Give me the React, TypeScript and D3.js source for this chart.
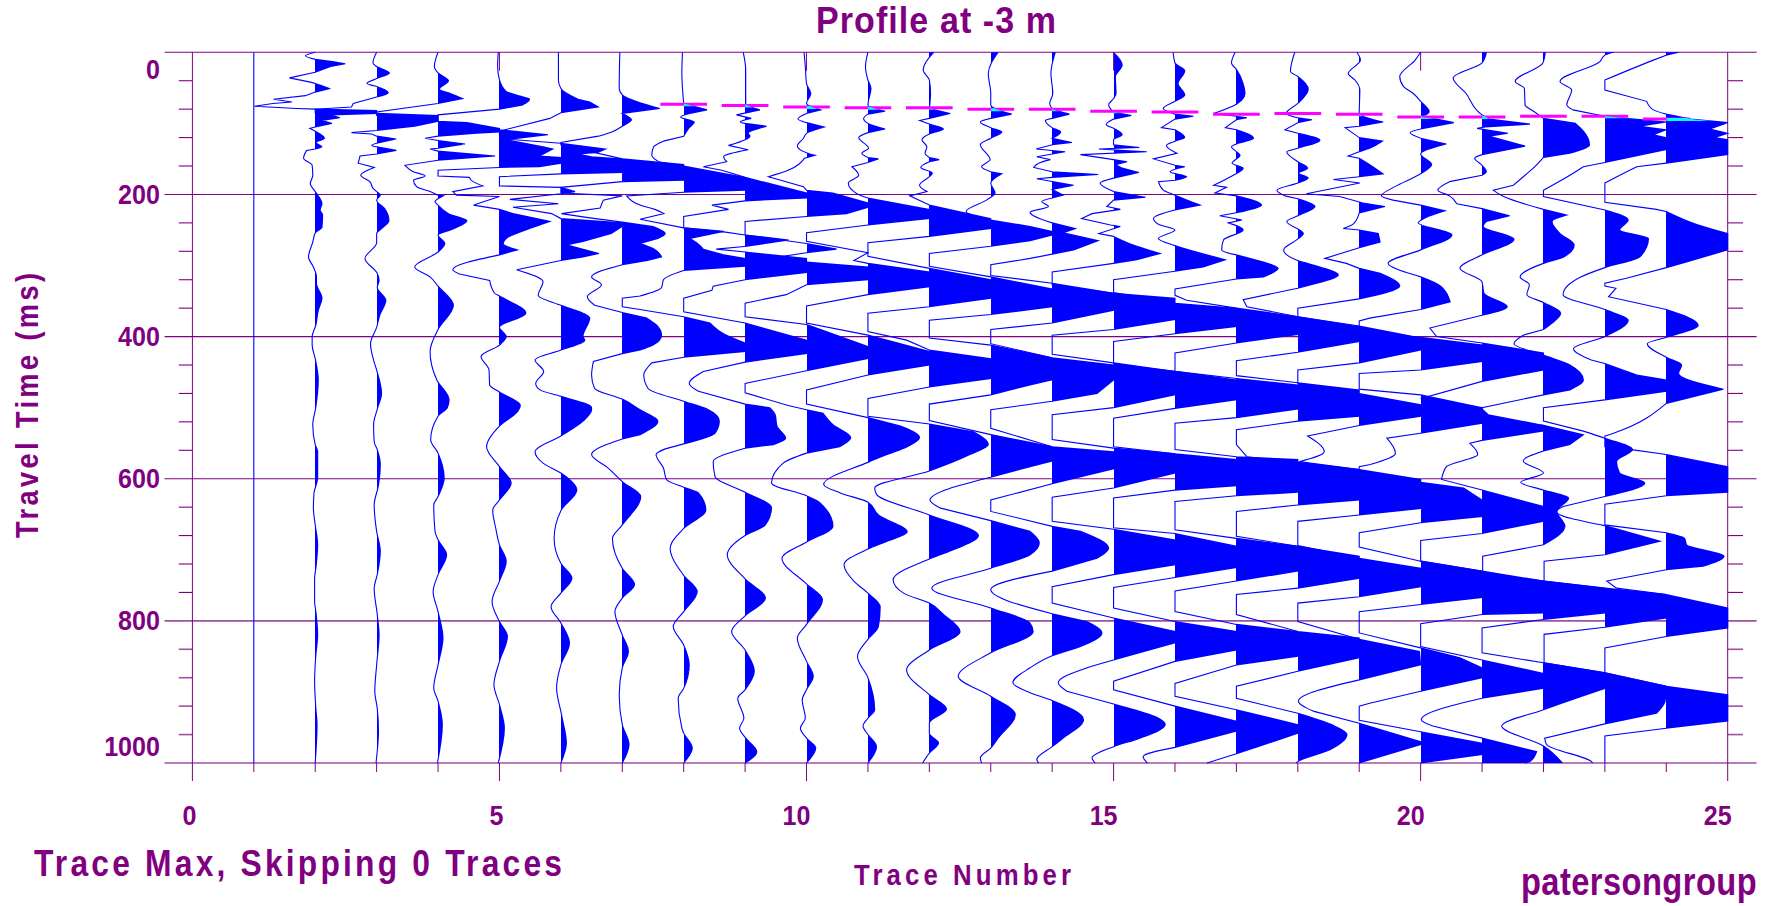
import React, { useEffect, useRef } from 'react';
import * as d3 from 'd3';

type Sample = [number, number]; // [time ms, amplitude in % of the trace spacing]

const trace01: Sample[] = [[0,0],[1000,0]];
const trace02: Sample[] = [[0,0],[5,-16],[10,0],[13,28],[16,49],[20,25],[28,0],[36,-42],[42,-8],[44,0],[51,23],[56,0],[61,-16],[66,-68],[70,-38],[72,-69],[76,-99],[79,-30],[80,0],[82,100],[86,100],[88,25],[92,40],[96,11],[100,27],[105,0],[107,-9],[111,0],[121,15],[127,1],[133,11],[136,0],[138,-14],[149,-19],[159,-5],[173,-4],[185,-8],[196,0],[213,11],[222,8],[229,12],[246,11],[254,0],[267,-4],[288,-11],[302,-3],[316,2],[325,2],[346,11],[363,5],[384,1],[400,-5],[412,-5],[431,0],[461,5],[499,1],[524,-4],[552,0],[562,4],[599,4],[620,-2],[641,-3],[665,0],[693,4],[726,1],[740,-1],[773,-1],[787,1],[820,4],[848,1],[885,-1],[923,1],[946,3],[1000,0]];
const trace03: Sample[] = [[0,0],[15,-6],[20,0],[29,21],[37,0],[44,-16],[48,0],[57,19],[63,0],[72,-38],[77,-41],[80,-100],[85,-100],[86,0],[89,100],[97,100],[104,62],[110,0],[113,-41],[115,-8],[118,0],[122,32],[128,0],[131,-8],[133,0],[138,32],[143,0],[146,-27],[156,-30],[162,-4],[173,-26],[182,-11],[191,-6],[196,0],[201,6],[208,0],[220,13],[237,20],[248,8],[255,0],[268,0],[290,-19],[311,1],[321,4],[331,1],[349,15],[370,5],[387,0],[410,-10],[433,-5],[447,0],[480,8],[502,1],[524,-5],[548,-4],[559,1],[580,6],[609,3],[637,-4],[674,0],[702,6],[735,1],[754,-4],[791,1],[820,4],[862,0],[899,-3],[923,1],[955,3],[1000,-1]];
const trace04: Sample[] = [[0,0],[20,-6],[29,0],[40,17],[52,2],[58,20],[65,40],[72,0],[84,-100],[89,-100],[97,0],[99,47],[107,100],[112,100],[114,63],[118,0],[121,-21],[124,0],[129,44],[135,0],[136,-13],[139,0],[146,93],[152,0],[159,-54],[168,-40],[174,-21],[180,-40],[189,-35],[196,-13],[201,0],[202,9],[206,0],[210,-5],[215,0],[227,17],[237,47],[250,20],[257,0],[269,11],[281,0],[302,-38],[316,-13],[329,0],[356,25],[390,0],[421,-13],[461,-2],[489,18],[500,15],[512,0],[545,-12],[564,0],[599,10],[625,0],[637,-7],[674,-5],[686,0],[707,14],[735,0],[759,-8],[787,0],[824,8],[862,0],[894,-7],[913,0],[946,7],[1000,-1]];
const trace05: Sample[] = [[0,-2],[20,-3],[39,0],[55,11],[62,35],[66,49],[74,38],[80,0],[88,-100],[97,-100],[109,0],[116,79],[123,11],[133,71],[136,87],[146,65],[148,100],[156,100],[161,65],[162,0],[166,-100],[174,-100],[176,-49],[182,-43],[188,-27],[196,-76],[201,-70],[203,0],[215,-42],[221,0],[227,22],[238,82],[248,49],[262,11],[269,6],[278,29],[285,0],[306,-76],[312,-65],[321,-16],[339,-8],[343,0],[367,43],[387,0],[400,11],[412,0],[428,-30],[447,-17],[468,-16],[478,0],[497,34],[505,30],[526,0],[555,-21],[583,0],[606,19],[630,0],[644,-11],[670,-6],[693,0],[716,11],[744,0],[773,-12],[801,0],[822,13],[857,0],[890,-9],[918,0],[951,8],[1000,-2]];
const trace06: Sample[] = [[0,-4],[39,-4],[51,0],[66,28],[70,47],[77,61],[85,0],[93,-18],[109,-91],[112,-100],[118,-100],[122,-90],[128,0],[136,73],[141,60],[143,28],[147,50],[150,100],[169,100],[171,0],[175,-100],[188,-100],[190,0],[196,23],[199,0],[207,-83],[213,-4],[218,-78],[227,-15],[234,0],[240,100],[245,100],[255,82],[266,36],[271,9],[283,62],[288,36],[293,0],[306,-72],[323,-29],[342,-37],[356,0],[367,36],[374,47],[400,36],[405,39],[419,0],[433,-42],[449,-28],[466,-41],[475,-34],[484,0],[500,50],[503,50],[519,36],[540,0],[562,-42],[578,-29],[592,0],[616,26],[645,0],[684,-11],[719,0],[740,18],[761,0],[780,-16],[803,0],[831,14],[862,0],[894,-7],[932,1],[972,9],[1000,0]];
const trace07: Sample[] = [[0,-4],[51,-5],[60,0],[71,29],[79,61],[86,0],[95,15],[104,0],[112,-17],[118,-39],[127,-100],[130,-100],[150,0],[158,100],[180,100],[182,0],[190,-100],[198,-100],[202,0],[208,-31],[219,-36],[227,-99],[233,-53],[239,0],[245,50],[255,70],[262,58],[269,29],[276,50],[288,64],[293,41],[299,0],[316,-50],[327,-34],[344,-57],[356,-45],[366,0],[374,40],[384,56],[398,64],[412,50],[419,29],[424,0],[435,-47],[454,-50],[473,-45],[488,0],[503,29],[519,58],[538,29],[544,0],[566,-50],[585,-23],[604,0],[625,30],[665,0],[684,-16],[726,0],[749,20],[768,0],[787,-12],[820,0],[843,10],[866,0],[904,-5],[946,0],[974,11],[1000,0]];
const trace08: Sample[] = [[0,-2],[30,-3],[72,0],[81,38],[86,10],[91,-5],[98,17],[107,8],[118,0],[125,-33],[133,-49],[145,-52],[154,-41],[160,0],[176,100],[194,100],[197,0],[202,-93],[215,-71],[221,-47],[227,-32],[235,-71],[247,0],[252,65],[262,10],[268,21],[277,32],[285,65],[290,100],[301,100],[307,0],[320,-33],[331,-36],[343,-71],[346,-100],[358,-100],[362,-71],[372,0],[381,43],[396,65],[409,100],[421,100],[429,0],[437,-52],[454,-65],[473,-58],[491,0],[502,38],[519,58],[536,51],[551,0],[558,-30],[566,-45],[585,-33],[601,-28],[612,0],[620,24],[644,36],[670,0],[698,-22],[736,0],[759,22],[787,0],[808,-17],[834,0],[862,9],[895,0],[909,-9],[951,-3],[958,0],[979,14],[1000,0]];
const trace09: Sample[] = [[0,-3],[25,1],[72,1],[81,24],[88,-14],[93,10],[98,-8],[100,0],[104,35],[114,5],[118,8],[123,0],[131,-27],[137,5],[147,-35],[154,-30],[161,-68],[166,-38],[176,0],[198,100],[205,100],[209,0],[215,-54],[221,-27],[231,-100],[247,-100],[253,-32],[257,0],[264,71],[273,3],[277,-47],[281,0],[290,100],[310,100],[320,0],[329,-52],[335,-54],[346,-100],[365,-100],[381,0],[405,100],[424,100],[436,0],[449,-68],[466,-91],[477,-76],[495,0],[500,40],[510,49],[526,52],[543,66],[552,46],[557,0],[576,-52],[597,-49],[619,0],[641,43],[665,33],[680,0],[707,-29],[741,0],[768,33],[793,0],[815,-22],[841,0],[871,15],[897,0],[909,-12],[937,-2],[951,-9],[964,0],[984,19],[1000,0]];
const trace10: Sample[] = [[0,-4],[20,-2],[44,0],[58,7],[72,0],[81,23],[86,0],[94,-14],[99,0],[105,29],[114,0],[121,-5],[132,-15],[142,2],[145,14],[149,-3],[166,-30],[175,-62],[189,-5],[194,0],[198,43],[212,100],[218,100],[227,65],[231,0],[238,-100],[257,-100],[269,0],[277,49],[282,0],[290,-60],[295,0],[302,100],[320,100],[327,0],[341,-33],[353,-100],[372,-100],[383,0],[398,49],[414,100],[431,100],[448,0],[466,-100],[479,-100],[497,-30],[503,0],[508,27],[524,43],[542,72],[555,54],[564,0],[578,-38],[606,-57],[624,0],[634,22],[667,43],[689,0],[712,-40],[748,0],[770,26],[805,0],[824,-15],[857,0],[878,11],[897,0],[911,-7],[937,-2],[951,-10],[965,0],[979,15],[1000,0]];
const trace11: Sample[] = [[0,0],[20,-4],[39,0],[51,5],[74,0],[83,28],[87,0],[93,-7],[100,0],[108,28],[113,0],[120,-15],[135,1],[142,-10],[148,0],[150,17],[155,0],[161,-26],[173,-15],[184,-32],[199,-18],[205,0],[221,100],[234,100],[243,0],[254,-100],[266,-100],[282,0],[293,-23],[297,0],[309,100],[330,100],[341,0],[357,-100],[381,-100],[398,0],[421,100],[440,100],[454,0],[475,-100],[495,-100],[514,0],[526,53],[542,84],[555,64],[566,31],[577,0],[608,-72],[620,-45],[633,0],[651,17],[675,64],[688,31],[699,0],[721,-39],[744,-23],[761,0],[780,20],[808,17],[826,0],[850,-17],[880,0],[925,11],[937,0],[948,-8],[960,0],[977,14],[1000,0]];
const trace12: Sample[] = [[0,7],[25,-10],[39,0],[58,2],[79,0],[86,34],[93,0],[96,-16],[101,0],[108,23],[115,0],[123,-12],[133,-4],[142,-7],[148,0],[151,16],[154,0],[162,-14],[170,5],[187,-16],[196,-4],[202,-32],[215,0],[234,100],[248,100],[259,0],[268,-100],[287,-100],[304,0],[320,100],[346,100],[358,0],[367,-100],[393,-100],[405,-37],[419,0],[431,100],[459,100],[471,0],[487,-100],[512,-100],[523,0],[534,72],[552,96],[566,66],[589,0],[613,-89],[622,-86],[651,0],[680,80],[698,45],[713,0],[742,-59],[761,-42],[775,0],[791,23],[815,50],[841,0],[869,-37],[904,0],[924,28],[944,0],[958,0],[972,15],[986,0],[1000,-11]];
const trace13: Sample[] = [[0,12],[30,-4],[58,0],[74,0],[87,34],[93,0],[98,-17],[106,0],[112,18],[121,0],[130,-17],[151,-1],[161,-15],[168,0],[171,18],[184,0],[198,7],[208,-7],[224,-40],[236,0],[245,64],[252,100],[257,100],[265,64],[273,0],[283,-100],[301,-100],[316,0],[333,100],[358,100],[369,0],[377,-100],[402,-100],[412,0],[430,100],[461,100],[468,64],[482,0],[495,-100],[518,-100],[538,0],[555,100],[575,100],[583,64],[598,0],[630,-99],[641,-83],[659,0],[674,64],[690,79],[707,64],[726,0],[754,-96],[782,0],[803,64],[815,69],[845,0],[878,-53],[906,0],[932,40],[965,12],[979,0],[993,-17],[1000,-15]];
const trace14: Sample[] = [[0,5],[30,-2],[58,1],[72,-4],[79,0],[87,28],[93,0],[96,-11],[106,0],[112,14],[121,0],[127,32],[130,0],[136,-26],[140,21],[147,-25],[151,-3],[156,-22],[162,-30],[168,0],[172,75],[176,0],[178,-25],[187,35],[193,0],[201,18],[205,0],[210,-17],[217,-6],[225,-36],[240,0],[248,38],[254,18],[265,75],[278,35],[284,0],[290,-36],[299,-100],[314,-100],[325,0],[339,100],[363,100],[381,0],[390,-100],[410,-100],[430,0],[440,100],[461,100],[480,73],[491,0],[503,-100],[529,-100],[555,0],[562,100],[586,100],[607,0],[630,-100],[646,-100],[667,0],[674,46],[698,92],[712,73],[730,0],[756,-100],[790,0],[801,56],[817,81],[836,46],[849,0],[866,-36],[887,-64],[901,-36],[912,0],[939,51],[965,18],[977,0],[995,-25],[1000,-22]];
const trace15: Sample[] = [[0,0],[18,14],[34,3],[58,4],[65,0],[74,-8],[84,0],[89,29],[94,0],[102,-12],[107,0],[116,14],[123,0],[130,0],[134,42],[136,-24],[140,54],[144,-54],[151,0],[154,22],[158,3],[163,14],[169,41],[177,0],[184,-22],[196,0],[204,52],[208,0],[217,-11],[221,11],[227,-35],[234,-52],[243,-5],[245,11],[255,-24],[259,0],[273,38],[283,76],[292,38],[297,0],[309,-100],[327,-100],[339,0],[346,100],[376,100],[390,0],[398,-100],[425,-100],[437,0],[449,100],[482,100],[500,0],[510,-100],[545,-100],[557,0],[565,100],[592,100],[613,0],[626,-100],[660,-100],[671,0],[686,100],[721,100],[735,0],[752,-100],[775,-100],[796,0],[815,100],[831,100],[855,0],[866,-43],[887,-90],[899,-76],[917,0],[946,84],[965,43],[977,0],[993,-35],[1000,-30]];
const trace16: Sample[] = [[0,-3],[15,0],[26,16],[44,5],[60,16],[69,0],[79,-19],[87,0],[90,30],[94,0],[106,-22],[109,0],[120,16],[125,0],[131,-14],[142,3],[150,-35],[159,0],[161,16],[168,-8],[175,19],[180,0],[182,-27],[194,-19],[201,0],[215,41],[222,0],[234,-35],[242,-27],[250,0],[262,-27],[272,0],[281,35],[292,82],[302,46],[308,0],[320,-100],[338,-100],[353,0],[360,100],[386,100],[396,0],[407,-100],[439,-100],[449,0],[461,100],[489,100],[501,0],[515,-100],[555,-100],[565,0],[573,100],[610,100],[616,0],[627,-100],[669,-100],[677,0],[695,100],[725,100],[739,0],[753,-100],[782,-100],[801,0],[815,100],[841,100],[857,0],[885,-100],[897,-100],[920,0],[941,100],[955,100],[978,0],[991,-52],[1000,-45]];
const trace17: Sample[] = [[0,-2],[15,-8],[24,0],[44,11],[58,14],[67,9],[73,0],[86,-37],[90,0],[92,17],[95,0],[106,-18],[109,0],[121,28],[129,0],[133,-8],[145,6],[156,-7],[163,11],[173,-5],[187,-37],[190,-16],[198,-35],[202,0],[215,41],[224,11],[230,-27],[236,9],[240,-13],[250,11],[264,-21],[278,-24],[285,0],[295,44],[304,68],[316,44],[319,0],[333,-100],[342,-100],[349,-81],[360,0],[372,100],[397,100],[409,0],[423,-100],[449,-100],[459,0],[468,100],[502,100],[514,0],[522,-100],[559,-100],[569,0],[573,100],[619,100],[624,0],[632,-100],[672,-100],[684,0],[695,100],[730,100],[744,0],[758,-100],[787,-100],[805,0],[815,100],[850,100],[862,0],[888,-100],[906,-100],[925,0],[946,100],[958,100],[987,0],[1000,-48]];
const trace18: Sample[] = [[0,-5],[27,-12],[34,0],[52,17],[72,0],[86,-19],[92,0],[95,23],[99,0],[109,-21],[114,0],[124,36],[135,0],[140,-18],[154,0],[163,16],[170,1],[177,17],[184,0],[194,-34],[202,-21],[206,0],[217,28],[230,0],[238,-18],[255,9],[264,-2],[278,-23],[293,0],[302,36],[313,66],[325,31],[332,0],[348,-89],[358,-83],[372,0],[386,100],[407,100],[422,0],[434,-100],[455,-100],[465,0],[475,100],[512,100],[519,0],[531,-100],[552,-100],[569,-83],[577,0],[587,100],[630,100],[637,0],[646,-100],[681,-100],[695,0],[709,100],[740,100],[754,0],[763,-100],[791,-100],[815,0],[824,100],[852,100],[871,0],[892,-100],[909,-100],[930,0],[946,55],[960,80],[981,53],[998,0],[1000,-3]];
const trace19: Sample[] = [[0,-4],[11,2],[30,-18],[39,-7],[53,1],[86,0],[98,39],[104,0],[106,-23],[120,0],[125,38],[135,17],[140,0],[146,-18],[149,0],[158,17],[171,39],[175,0],[179,-42],[184,1],[199,-86],[203,-32],[212,6],[217,42],[226,0],[241,-9],[248,-26],[250,0],[255,31],[267,34],[275,0],[290,-56],[297,-21],[304,0],[311,34],[329,66],[341,31],[347,0],[360,-100],[372,-100],[385,0],[402,100],[419,100],[437,0],[447,-100],[466,-100],[480,0],[496,100],[512,100],[525,0],[540,-84],[562,-57],[576,-98],[587,0],[601,100],[642,100],[651,0],[660,-100],[694,-100],[712,0],[726,100],[752,100],[766,0],[775,-100],[801,-100],[826,0],[843,98],[862,100],[883,0],[913,-99],[927,-75],[944,0],[970,100],[974,100],[1000,0]];
const trace20: Sample[] = [[0,0],[11,-9],[34,-34],[48,-28],[58,-12],[69,0],[84,14],[91,0],[94,26],[99,54],[108,0],[113,-17],[121,0],[129,42],[143,0],[158,18],[171,0],[189,-42],[202,-64],[208,-45],[215,0],[223,40],[233,7],[240,-4],[257,51],[278,0],[297,-53],[306,-36],[316,0],[330,34],[351,48],[362,0],[374,-83],[378,-100],[394,-100],[401,0],[412,100],[435,100],[447,0],[452,-100],[474,-100],[482,0],[500,100],[522,100],[536,0],[543,-55],[564,-41],[580,-82],[583,-100],[600,-100],[605,0],[613,70],[630,100],[653,100],[662,0],[676,-100],[696,-100],[716,0],[730,100],[767,100],[777,0],[787,-100],[817,-100],[838,0],[852,64],[866,100],[880,100],[899,0],[916,-83],[920,-100],[940,-100],[956,0],[972,100],[988,100],[1000,0]];
const trace21: Sample[] = [[0,7],[15,0],[36,-47],[58,-26],[88,0],[94,12],[101,78],[105,5],[107,-8],[114,42],[118,12],[132,70],[144,0],[149,-12],[159,0],[168,7],[173,0],[182,-53],[194,-72],[202,-53],[213,-41],[220,0],[230,45],[238,7],[245,2],[263,52],[285,0],[304,-36],[323,0],[339,3],[358,41],[370,0],[388,-85],[400,-74],[409,0],[423,100],[447,100],[463,0],[487,-99],[496,-80],[502,0],[510,10],[525,100],[533,100],[546,0],[550,-20],[566,-7],[583,-58],[601,-66],[616,0],[639,100],[660,100],[677,0],[687,-100],[716,-100],[730,0],[744,100],[789,100],[791,0],[804,-100],[836,-100],[855,0],[874,100],[895,100],[909,0],[939,-99],[948,-80],[965,0],[984,89],[998,78],[1000,70]];
const trace22: Sample[] = [[0,3],[15,-1],[41,-46],[51,-31],[74,-30],[83,-16],[93,0],[100,52],[111,65],[130,75],[142,43],[148,0],[161,-14],[173,-30],[187,-49],[194,-82],[203,-65],[221,0],[229,38],[238,14],[255,27],[271,50],[288,33],[297,0],[316,-38],[327,-23],[341,-27],[352,0],[367,28],[381,14],[390,0],[398,-33],[410,-48],[426,0],[440,43],[461,65],[475,43],[482,0],[500,-100],[519,-100],[525,0],[538,65],[552,43],[561,0],[575,-33],[592,0],[605,-37],[616,0],[627,41],[646,22],[667,35],[693,0],[709,-99],[733,-99],[744,0],[754,100],[789,100],[798,0],[810,-100],[845,-100],[859,0],[873,100],[895,100],[925,0],[948,-68],[976,0],[1000,31]];
const trace23: Sample[] = [[0,14],[4,0],[13,-8],[41,-73],[53,-54],[74,-62],[81,-52],[90,0],[98,100],[104,57],[109,100],[116,79],[120,100],[137,100],[155,0],[161,-35],[173,-57],[194,-100],[203,-100],[222,0],[236,38],[250,24],[262,71],[288,57],[303,0],[317,-41],[341,-68],[362,0],[377,38],[400,0],[417,-51],[433,-22],[438,0],[454,52],[461,100],[477,100],[489,0],[500,-100],[519,-100],[533,-35],[543,0],[559,45],[576,19],[592,24],[606,65],[625,0],[639,-68],[646,-79],[666,0],[688,90],[707,0],[716,-99],[744,-99],[754,0],[763,100],[796,100],[809,0],[819,-99],[859,-99],[873,0],[892,100],[913,98],[930,84],[945,0],[965,-98],[974,-95],[998,-22],[1000,-20]];
const trace24: Sample[] = [[0,20],[4,0],[11,-21],[39,-100],[53,-100],[69,-32],[81,-21],[87,0],[94,40],[99,100],[108,71],[114,100],[120,79],[123,100],[144,100],[156,0],[161,-48],[174,-78],[184,-100],[211,-100],[221,-16],[224,0],[243,52],[255,100],[278,100],[295,33],[303,0],[318,-65],[325,-100],[329,-100],[332,-82],[344,-94],[362,0],[384,52],[401,0],[410,-31],[429,0],[440,25],[452,20],[474,93],[494,0],[536,-86],[540,-100],[555,-100],[559,-57],[566,0],[583,100],[619,100],[624,0],[636,-100],[665,-100],[676,0],[684,30],[693,33],[709,94],[723,60],[728,0],[744,-97],[754,-81],[763,0],[782,100],[810,100],[822,0],[838,-100],[873,-100],[892,0],[904,100],[941,100],[951,0],[962,-100],[1000,-100]];

const traces = [trace01, trace02, trace03, trace04, trace05, trace06, trace07, trace08, trace09, trace10, trace11, trace12,
  trace13, trace14, trace15, trace16, trace17, trace18, trace19, trace20, trace21, trace22, trace23, trace24];

// first break picks, one dash for each trace from 8 to 24
const pickTraces = [8, 9, 10, 11, 12, 13, 14, 15, 16, 17, 18, 19, 20, 21, 22, 23, 24];
const pickTimes = [73, 75, 77, 78, 78, 80, 80, 83, 84, 87, 86, 87, 91, 91, 90, 90, 94];

const timeLabels = [0, 200, 400, 600, 800, 1000];
const timeMinor = [40, 80, 120, 160, 240, 280, 320, 360, 440, 480, 520, 560, 640, 680, 720, 760, 840, 880, 920, 960];
const timeGrid = [200, 400, 600, 800];
const traceLabels = [0, 5, 10, 15, 20, 25];
const traceMinor = [1, 2, 3, 4, 6, 7, 8, 9, 11, 12, 13, 14, 16, 17, 18, 19, 21, 22, 23, 24];

const PURPLE = '#800080';
const PALE = '#a050a0';
const BLUE = '#0000ff';
const FONT = '"Liberation Sans", Arial, sans-serif';

// clipped swings and fast edges stay straight, slow lobes get a curve
const isHard = (a: Sample, b: Sample) =>
  (Math.abs(a[1]) >= 99 && Math.abs(b[1]) >= 99) || Math.abs(b[1] - a[1]) / Math.max(b[0] - a[0], 1) > 4;

const splitRuns = (samples: Sample[]) => {
  const runs: { hard: boolean; points: Sample[] }[] = [];
  for (let i = 1; i < samples.length; i++) {
    const hard = isHard(samples[i - 1], samples[i]);
    const last = runs[runs.length - 1];
    if (last && last.hard === hard) last.points.push(samples[i]);
    else runs.push({ hard, points: [samples[i - 1], samples[i]] });
  }
  return runs;
};

const App: React.FC = () => {
  const svgRef = useRef<SVGSVGElement>(null);

  useEffect(() => {
    if (!svgRef.current) return;
    const svg = d3.select(svgRef.current);
    svg.selectAll('*').remove();

    const x = d3.scaleLinear().domain([0, 25]).range([192.4, 1727.7]);
    const y = d3.scaleLinear().domain([0, 1000]).range([52.3, 763]);
    const left = 164.6;
    const right = 1756.6;
    const tone = (t: number) => (t >= 800 ? PALE : PURPLE);
    const weight = (t: number) => (t >= 800 ? 1.6 : 1.1);

    const defs = svg.append('defs');
    const axes = svg.append('g').attr('fill', 'none');

    // horizontal lines and time ticks
    axes.selectAll('line.grid')
      .data([0, ...timeGrid, 1000])
      .enter().append('line')
      .attr('x1', left).attr('x2', right)
      .attr('y1', d => y(d)).attr('y2', d => y(d))
      .attr('stroke', d => tone(d))
      .attr('stroke-width', d => weight(d));
    axes.selectAll('line.minorL')
      .data(timeMinor)
      .enter().append('line')
      .attr('x1', 178.8).attr('x2', x(0))
      .attr('y1', d => y(d)).attr('y2', d => y(d))
      .attr('stroke', d => tone(d))
      .attr('stroke-width', d => weight(d));
    axes.selectAll('line.minorR')
      .data(timeMinor)
      .enter().append('line')
      .attr('x1', x(25)).attr('x2', 1743)
      .attr('y1', d => y(d)).attr('y2', d => y(d))
      .attr('stroke', d => tone(d))
      .attr('stroke-width', d => weight(d));

    // trace ticks, the labelled ones also hang from the top line
    axes.selectAll('line.major')
      .data(traceLabels)
      .enter().append('line')
      .attr('x1', d => x(d)).attr('x2', d => x(d))
      .attr('y1', y(1000)).attr('y2', 781)
      .attr('stroke', PURPLE).attr('stroke-width', 1);
    axes.selectAll('line.top')
      .data(traceLabels.slice(1, 5))
      .enter().append('line')
      .attr('x1', d => x(d)).attr('x2', d => x(d))
      .attr('y1', y(0)).attr('y2', 70.7)
      .attr('stroke', PURPLE).attr('stroke-width', 1);
    axes.selectAll('line.minorB')
      .data(traceMinor)
      .enter().append('line')
      .attr('x1', d => x(d)).attr('x2', d => x(d))
      .attr('y1', y(1000)).attr('y2', 772)
      .attr('stroke', PURPLE).attr('stroke-width', 1);
    axes.selectAll('line.side')
      .data([0, 25])
      .enter().append('line')
      .attr('x1', d => x(d)).attr('x2', d => x(d))
      .attr('y1', y(0)).attr('y2', y(1000))
      .attr('stroke', PURPLE).attr('stroke-width', 1);

    // wiggle traces with the positive side filled
    const spacing = x(1) - x(0);
    const fills = svg.append('g').attr('shape-rendering', 'crispEdges');
    const wiggles = svg.append('g');

    const wigglePath = (trace: number, samples: Sample[]) => {
      const smooth = d3.line<Sample>()
        .x(d => x(trace + d[1] / 100))
        .y(d => y(d[0]))
        .curve(d3.curveMonotoneY);
      const straight = d3.line<Sample>()
        .x(d => x(trace + d[1] / 100))
        .y(d => y(d[0]));
      return splitRuns(samples)
        .map((run, i) => {
          const d = (run.hard ? straight : smooth)(run.points) as string;
          return i === 0 ? d : 'L' + d.slice(1);
        })
        .join('');
    };
    const areaPath = (trace: number, samples: Sample[]) =>
      `${wigglePath(trace, samples)}L${x(trace)},${y(samples[samples.length - 1][0])}L${x(trace)},${y(samples[0][0])}Z`;

    traces.forEach((samples, i) => {
      const trace = i + 1;
      const edge = Math.round(x(trace));
      const clipId = `positive-${trace}`;
      defs.append('clipPath').attr('id', clipId)
        .append('rect')
        .attr('x', edge).attr('y', y(0))
        .attr('width', Math.round(x(trace + 1)) - edge).attr('height', y(1000) - y(0));

      fills.append('path')
        .attr('d', areaPath(trace, samples))
        .attr('fill', BLUE)
        .attr('clip-path', `url(#${clipId})`);
      wiggles.append('path')
        .attr('d', wigglePath(trace, samples))
        .attr('fill', 'none')
        .attr('stroke', BLUE)
        .attr('stroke-width', 1.1);
    });

    // picks: a dash centred on each trace, cyan where the fill crosses it
    const picks = svg.append('g');
    pickTraces.forEach((trace, i) => {
      const t = pickTimes[i];
      picks.append('line')
        .attr('x1', x(trace - 0.38)).attr('x2', x(trace + 0.38))
        .attr('y1', y(t)).attr('y2', y(t))
        .attr('stroke', '#ff00ff').attr('stroke-width', 3);

      const clipId = `pick-${trace}`;
      defs.append('clipPath').attr('id', clipId)
        .append('rect')
        .attr('x', x(trace)).attr('y', y(t) - 1)
        .attr('width', spacing).attr('height', 3);
      picks.append('path')
        .attr('d', areaPath(trace, traces[trace - 1]))
        .attr('fill', '#00ffff')
        .attr('clip-path', `url(#${clipId})`);
    });

    // texts, narrowed by sx because the picture was stretched upwards
    const labels = svg.append('g')
      .attr('font-family', FONT)
      .attr('font-weight', 'bold')
      .attr('fill', PURPLE);

    const caption = (text: string, px: number, py: number, size: number, length: number, sx: number, turn = 0) => {
      labels.append('text')
        .attr('transform', `translate(${px},${py}) rotate(${turn}) scale(${sx},1)`)
        .attr('font-size', size)
        .attr('textLength', length / sx)
        .text(text);
    };

    labels.selectAll('text.time')
      .data(timeLabels)
      .enter().append('text')
      .attr('transform', d => `translate(160,${d === 0 ? y(0) + 27 : d === 1000 ? y(1000) - 7 : y(d) + 9.5}) scale(0.93,1)`)
      .attr('text-anchor', 'end')
      .attr('font-size', 27)
      .text(d => d);
    labels.selectAll('text.trace')
      .data(traceLabels)
      .enter().append('text')
      .attr('transform', d => `translate(${x(d) + 4},824.7) scale(0.93,1)`)
      .attr('text-anchor', 'end')
      .attr('font-size', 27)
      .text(d => d);

    caption('Profile at -3 m', 816, 32.7, 37, 240, 0.92);
    caption('Travel Time (ms)', 38, 538, 32, 265, 0.85, -90);
    caption('Trace Max, Skipping 0 Traces', 34, 876.3, 37, 528, 0.86);
    caption('Trace Number', 854, 884.7, 30, 217, 0.86);
    caption('patersongroup', 1521, 894.7, 38, 235.6, 0.86);
  }, []);

  return (
    <svg
      ref={svgRef}
      width={1780}
      height={906}
      style={{ position: 'absolute', left: 0, top: 0, background: '#fff', display: 'block' }}
    />
  );
};

export default App;
